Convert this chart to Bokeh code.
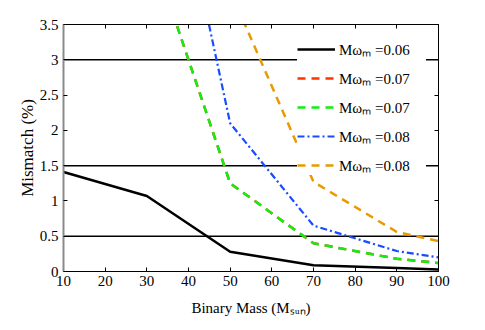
from bokeh.plotting import figure
from bokeh.models import Range1d, LinearAxis, Span, Legend, LegendItem, FixedTicker
from bokeh.embed import file_html
from bokeh.resources import INLINE

# ---- data ----
mass = [10, 30, 50, 70, 90, 100]
mis_a = [1.41, 1.07, 0.28, 0.09, 0.05, 0.03]      # Momega_m = 0.06
mis_b = [9.0, 4.75, 1.25, 0.40, 0.18, 0.12]       # Momega_m = 0.07 (red, hidden)
mis_c = [9.0, 4.75, 1.25, 0.40, 0.18, 0.12]       # Momega_m = 0.07 (green)
mis_d = [15.0, 7.6, 2.10, 0.65, 0.29, 0.20]       # Momega_m = 0.08 (blue)
mis_e = [20.0, 9.5, 3.98, 1.27, 0.56, 0.43]       # Momega_m = 0.08 (orange)
labels = ["Mω\u2098 =0.06", "Mω\u2098 =0.07", "Mω\u2098 =0.07", "Mω\u2098 =0.08", "Mω\u2098 =0.08"]
ref_levels = [0.5, 1.5, 3.0]
x_ticks = [10, 20, 30, 40, 50, 60, 70, 80, 90, 100]
y_ticks = [0, 0.5, 1, 1.5, 2, 2.5, 3, 3.5]

FONT = "Liberation Serif"

p = figure(width=477, height=322, output_backend="svg", toolbar_location=None,
           x_range=Range1d(10, 100), y_range=Range1d(0, 3.5),
           min_border_left=63, min_border_right=39, min_border_top=24, min_border_bottom=51,
           x_axis_label="Binary Mass (M\u209b\u1d64\u2099)", y_axis_label="Mismatch (%)")
p.grid.visible = False
p.outline_line_color = None
p.background_fill_color = "white"
p.border_fill_color = "white"

for lv in ref_levels:
    p.add_layout(Span(location=lv, dimension="width", line_color="black",
                      line_width=1.5, level="underlay"))

def style_axis(ax, ticks, labels_on=True):
    ax.ticker = FixedTicker(ticks=ticks)
    ax.axis_line_color = "black"
    ax.axis_line_width = 1
    ax.major_tick_in = 4
    ax.major_tick_out = 0
    ax.minor_tick_line_color = None
    ax.major_tick_line_color = "black"
    ax.major_label_text_font = FONT
    ax.major_label_text_color = "black"
    ax.major_label_text_font_size = "15px"
    if labels_on:
        ax.major_label_overrides = {t: "%g" % t for t in ticks}
    else:
        ax.major_label_overrides = {t: "" for t in ticks}
        ax.major_label_standoff = 0

xa = p.xaxis[0]
ya = p.yaxis[0]
style_axis(xa, x_ticks)
style_axis(ya, y_ticks)
ya.axis_line_color = "#8a8a8a"
ya.axis_line_width = 2
xa.major_label_standoff = 4
ya.major_label_standoff = 5
for ax, fs in ((xa, "15px"), (ya, "17px")):
    ax.axis_label_text_font = FONT
    ax.axis_label_text_font_size = fs
    ax.axis_label_text_font_style = "normal"
    ax.axis_label_text_color = "black"
xa.axis_label_standoff = 11
ya.axis_label_standoff = 0

top = LinearAxis()
right = LinearAxis()
style_axis(top, x_ticks, False)
style_axis(right, y_ticks, False)
p.add_layout(top, "above")
p.add_layout(right, "right")

r_a = p.line(mass, mis_a, line_color="black", line_width=2.5)
r_b = p.line(mass, mis_b, line_color="#FF3300", line_width=2.5, line_dash="8 6")
r_c = p.line(mass, mis_c, line_color="#11EE11", line_width=2.5, line_dash="8 6")
r_d = p.line(mass, mis_d, line_color="#1A4CFF", line_width=2.2, line_dash="7 3 2 3")
r_e = p.line(mass, mis_e, line_color="#E89A00", line_width=2.5, line_dash="8 6")

legend = Legend(items=[LegendItem(label=l, renderers=[r]) for l, r in
                       zip(labels, [r_a, r_b, r_c, r_d, r_e])],
                location=(234, 96), orientation="vertical",
                background_fill_color="white", background_fill_alpha=1.0,
                border_line_color=None, padding=6, margin=0, spacing=9,
                glyph_width=38, glyph_height=20, label_height=20, label_width=87,
                label_standoff=4, label_text_font=FONT, label_text_font_size="15px",
                label_text_color="black")
p.add_layout(legend, "center")

open("out.html", "w").write(file_html(p, INLINE))
